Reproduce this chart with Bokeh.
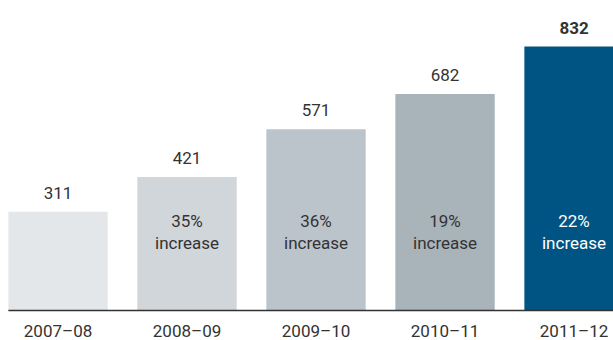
from bokeh.plotting import figure
from bokeh.models import ColumnDataSource, Range1d
from bokeh.core.properties import value
from bokeh.embed import file_html
from bokeh.resources import INLINE

years = ["2007–08", "2008–09", "2009–10", "2010–11", "2011–12"]
counts = [311, 421, 571, 682, 832]
increase = ["", "35%", "36%", "19%", "22%"]
colors = ["#e3e7ea", "#d0d6da", "#bcc4cb", "#a9b3ba", "#005483"]
text_colors = ["#333333", "#333333", "#333333", "#333333", "#ffffff"]

FONT = "Roboto"
xs = [i + 0.5 for i in range(len(years))]

src = ColumnDataSource(dict(
    x=xs, top=counts, color=colors, lab=[str(c) for c in counts],
    inc=increase, inc2=["" if s == "" else "increase" for s in increase],
    tcol=text_colors, year=years,
    style=["normal"] * 4 + ["bold"],
))

p = figure(width=613, height=340, output_backend="svg", toolbar_location=None,
           x_range=Range1d(0.054, 4.806), y_range=Range1d(-94.5, 977),
           min_border=0)
p.outline_line_color = None
p.background_fill_color = "white"
p.grid.visible = False
p.axis.visible = False

bw = 0.77
p.vbar(x="x", top="top", bottom=0, width=bw, fill_color="color", line_color=None, source=src)

p.segment(x0=[xs[0] - bw / 2], x1=[5.0], y0=[0], y1=[0], line_color="#333333", line_width=1.5)

p.text(x="x", y="top", text="lab", source=src, text_align="center", text_baseline="bottom",
       y_offset=-13, text_font=value(FONT), text_font_size="17px", text_color="#333333",
       text_font_style="style")

p.text(x="x", y=283, text="inc", source=src, text_align="center", text_baseline="middle",
       text_font=value(FONT), text_font_size="17px", text_color="tcol")
p.text(x="x", y=213, text="inc2", source=src, text_align="center", text_baseline="middle",
       text_font=value(FONT), text_font_size="17px", text_color="tcol")

p.text(x="x", y=0, text="year", source=src, text_align="center", text_baseline="top",
       y_offset=10, text_font=value(FONT), text_font_size="17px", text_color="#333333")

open("out.html", "w").write(file_html(p, INLINE))
